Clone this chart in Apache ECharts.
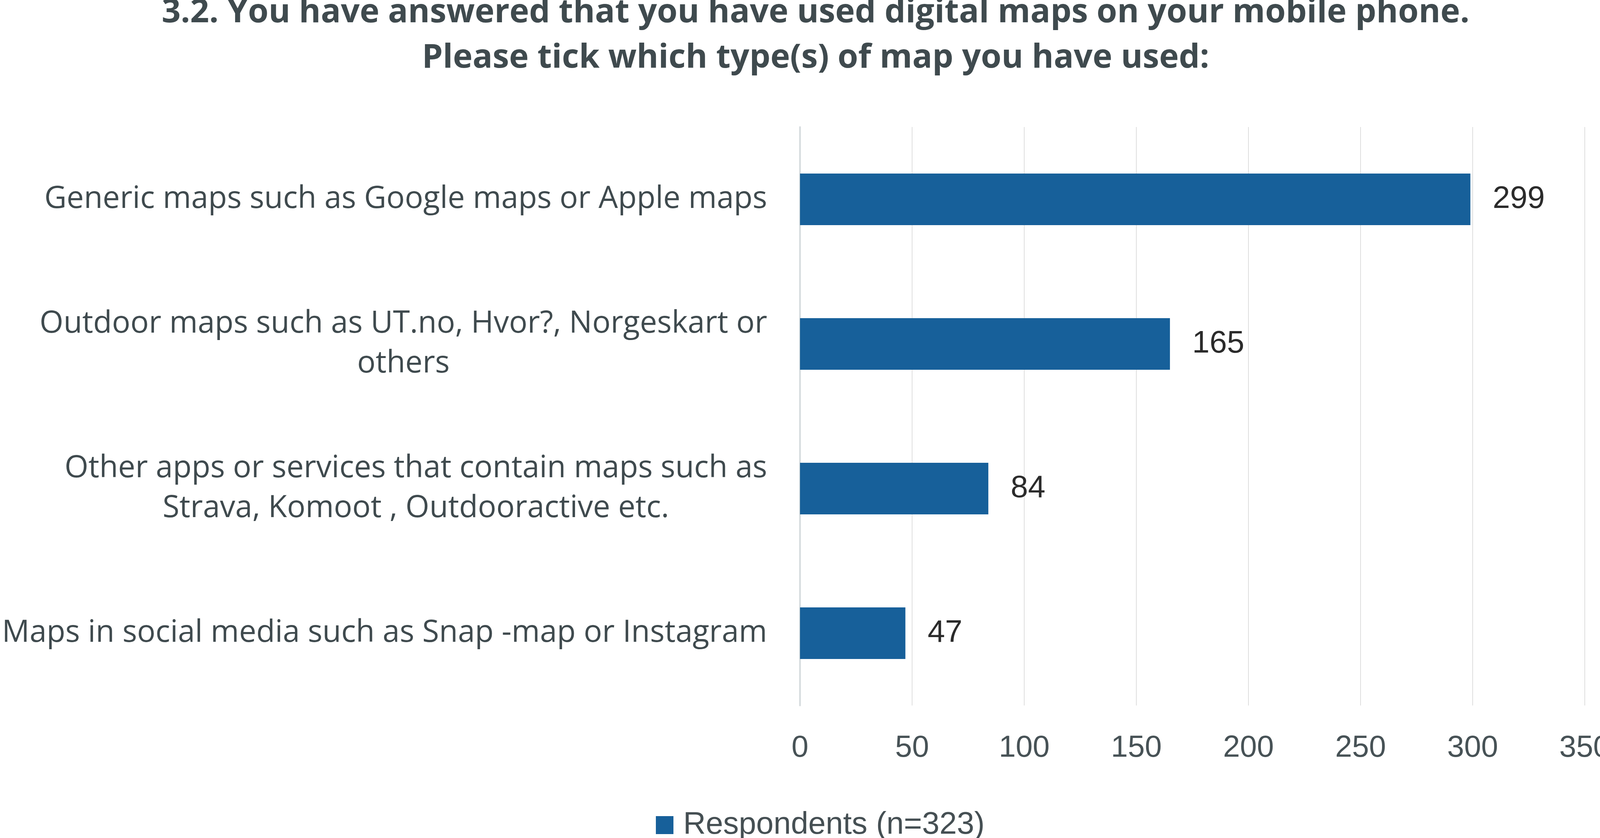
<!DOCTYPE html>
<html>
<head>
<meta charset="utf-8">
<script src="https://cdn.jsdelivr.net/npm/echarts@6/dist/echarts.min.js"></script>
<style>
html,body{margin:0;padding:0;background:#ffffff;overflow:hidden;}
#chart{width:4125px;height:2144px;}
</style>
</head>
<body>
<div id="chart"></div>
<script>
const titleText = "3.2. You have answered that you have used digital maps on your mobile phone.\nPlease tick which type(s) of map you have used:";
const categories = [
  "Generic maps such as Google maps or Apple maps",
  "Outdoor maps such as UT.no, Hvor?, Norgeskart or\nothers",
  "Other apps or services that contain maps such as\nStrava, Komoot , Outdooractive etc.",
  "Maps in social media such as Snap -map or Instagram"
];
const values = [299, 165, 84, 47];
const seriesName = "Respondents (n=323)";
const xTicks = { min: 0, max: 350, interval: 50 };

const chart = echarts.init(document.getElementById('chart'), null, { renderer: 'canvas' });
const option = {
  backgroundColor: '#ffffff',
  animation: false,
  title: {
    text: titleText,
    left: 2083,
    textAlign: 'center',
    top: -30,
    textStyle: {
      fontFamily: 'Open Sans',
      fontWeight: 'bold',
      fontSize: 85,
      lineHeight: 116,
      color: '#3f4a4e'
    }
  },
  legend: {
    data: [seriesName],
    left: 1674,
    top: 2066,
    icon: 'rect',
    itemWidth: 45,
    itemHeight: 46,
    textStyle: {
      fontFamily: 'Liberation Sans',
      fontSize: 80,
      color: '#454f53',
      padding: [0, 0, 0, 20]
    }
  },
  grid: {
    left: 2048,
    right: 64,
    top: 325,
    bottom: 339,
    containLabel: false
  },
  xAxis: {
    type: 'value',
    min: xTicks.min,
    max: xTicks.max,
    interval: xTicks.interval,
    axisLine: { show: false },
    axisTick: { show: false },
    splitLine: { show: true, lineStyle: { color: '#dedede', width: 2 } },
    axisLabel: {
      margin: 70,
      fontFamily: 'Liberation Sans',
      fontSize: 78,
      color: '#475256'
    }
  },
  yAxis: {
    type: 'category',
    data: categories,
    inverse: true,
    axisTick: { show: false },
    axisLine: { show: true, lineStyle: { color: '#d5dbdd', width: 4 } },
    axisLabel: {
      margin: 84,
      align: 'right',
      formatter: function (v) {
        return v.split('\n').map(function (l) { return '{c|' + l + '}'; }).join('\n');
      },
      rich: {
        c: {
          align: 'center',
          fontFamily: 'Open Sans',
          fontSize: 78.5,
          lineHeight: 102,
          color: '#3f4a4e'
        }
      }
    }
  },
  series: [{
    name: seriesName,
    type: 'bar',
    data: values,
    barWidth: 132,
    itemStyle: { color: '#17609a' },
    label: {
      show: true,
      position: 'right',
      distance: 57,
      fontFamily: 'Liberation Sans',
      fontSize: 80,
      color: '#2b2b2b'
    }
  }]
};
chart.setOption(option);
</script>
</body>
</html>
